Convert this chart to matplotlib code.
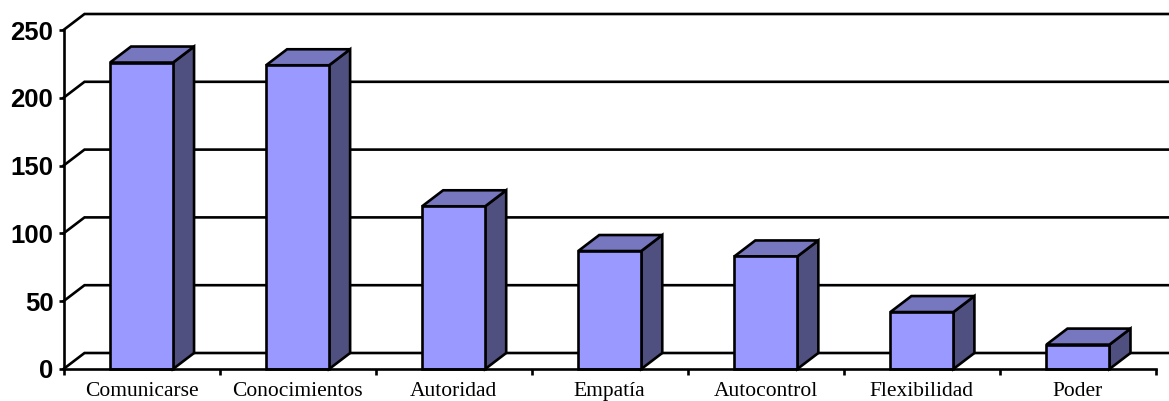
import matplotlib
matplotlib.use("Agg")
import matplotlib.pyplot as plt
from matplotlib.patches import Polygon

categories = ["Comunicarse", "Conocimientos", "Autoridad", "Empatía",
              "Autocontrol", "Flexibilidad", "Poder"]
values = [226, 224, 120, 87, 83, 42, 18]
y_ticks = [0, 50, 100, 150, 200, 250]

W, H = 1169, 401
LEFT, RIGHT, BOTTOM, TOP = 63.5, 1156, 369, 30
DX_PX, DY_PX = 21, 16
INK = "black"
LW = 1.9
FRONT, ROOF, SIDE = "#9999FF", "#7777BF", "#505080"

fig = plt.figure(figsize=(W / 100, H / 100), dpi=100, facecolor="white")
ax = fig.add_axes([LEFT / W, 1 - BOTTOM / H, (RIGHT - LEFT) / W, (BOTTOM - TOP) / H])
ax.set_xlim(-0.5, len(categories) - 0.5)
ax.set_ylim(0, 250)

# Depth of the 3D box expressed in data units
dx = DX_PX * (len(categories)) / (RIGHT - LEFT)
dy = DY_PX * 250 / (BOTTOM - TOP)
x_end = -0.5 + (W - LEFT) * len(categories) / (RIGHT - LEFT)

# Back-wall gridlines with their slanted run down to the axis
for t in y_ticks:
    ax.plot([-0.5, -0.5 + dx, x_end], [t, t + dy, t + dy], color=INK, lw=LW,
            clip_on=False, zorder=1, solid_joinstyle="miter")

# Boxes: side and roof first, front face on top
half = 63 / 156 / 2
for i, v in enumerate(values):
    l, r = i - half, i + half
    side = [(r, 0), (r + dx, dy), (r + dx, v + dy), (r, v)]
    roof = [(l, v), (l + dx, v + dy), (r + dx, v + dy), (r, v)]
    front = [(l, 0), (r, 0), (r, v), (l, v)]
    for pts, col in ((side, SIDE), (roof, ROOF), (front, FRONT)):
        ax.add_patch(Polygon(pts, closed=True, facecolor=col, edgecolor=INK,
                             lw=LW, clip_on=False, zorder=3, joinstyle="miter"))

for s in ("top", "right"):
    ax.spines[s].set_visible(False)
for s in ("left", "bottom"):
    ax.spines[s].set_linewidth(LW)
    ax.spines[s].set_zorder(4)

ax.set_yticks(y_ticks)
ax.tick_params(axis="y", length=3.5, width=LW, pad=3.8)
for lab in ax.get_yticklabels():
    lab.set_fontfamily("Liberation Sans")
    lab.set_fontweight("bold")
    lab.set_fontsize(18.5)
    lab.set_verticalalignment("center_baseline")

ax.set_xticks([i - 0.5 for i in range(len(categories) + 1)])
ax.set_xticklabels([""] * (len(categories) + 1))
ax.tick_params(axis="x", which="major", length=4.5, width=LW)
ax.set_xticks(range(len(categories)), labels=categories, minor=True)
ax.tick_params(axis="x", which="minor", length=0, pad=19.2)
for lab in ax.get_xticklabels(minor=True):
    lab.set_fontfamily("Liberation Serif")
    lab.set_fontsize(15.5)
    lab.set_verticalalignment("baseline")

fig.savefig("out.png", dpi=100, facecolor="white")
